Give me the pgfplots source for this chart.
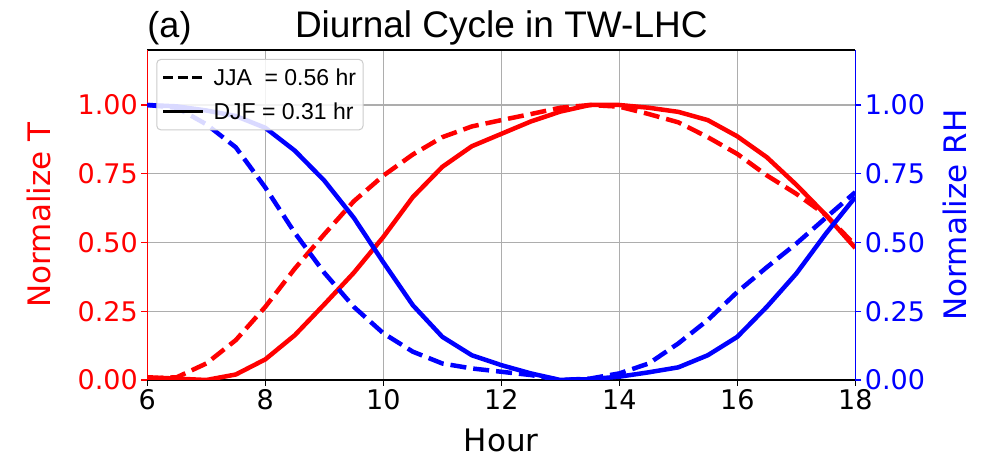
\documentclass[border=0pt]{standalone}
\usepackage{pgfplots}
\pgfplotsset{compat=1.18}
\usepackage{fontspec}
\setmainfont{DejaVu Sans}
\newfontfamily\arial{Liberation Sans}
\begin{document}
\begin{tikzpicture}
\useasboundingbox (0,0) rectangle (986pt,460pt);
\pgfplotsset{
  common/.style={
    at={(147.3pt,80pt)}, anchor=south west,
    width=708pt, height=330pt, scale only axis,
    xmin=6, xmax=18, ymin=0, ymax=1.2,
    clip mode=individual,
    tick align=outside, major tick length=6pt,
    /pgf/number format/assume math mode=true,
    tick label style={font=\fontsize{27}{30}\selectfont},
    ytick={0,0.25,0.5,0.75,1},
    yticklabel style={/pgf/number format/fixed, /pgf/number format/fixed zerofill, /pgf/number format/precision=2},
    every axis plot/.append style={line width=4.5pt, line join=round},
  }
}
\begin{axis}[common,
  axis x line*=box, axis y line*=left,
  x axis line style={black, line width=1.3pt, -},
  y axis line style={red, line width=1.3pt, -},
  xtick={6,8,10,12,14,16,18}, xtick pos=bottom,
  ytick pos=left,
  xtick style={black, line width=1.3pt},
  ytick style={red, line width=1.3pt},
  yticklabel style={text=red},
  grid=major, grid style={color=black!32, line width=1.2pt},
  xlabel={Hour}, ylabel={Normalize T},
  xlabel style={font=\fontsize{31}{34}\selectfont, at={(axis description cs:0.5,-0.182)}, anchor=center},
  ylabel style={font=\fontsize{31}{34}\selectfont, text=red, at={(axis description cs:-0.153,0.5)}, anchor=center},
]
% JJA T (dashed)
\addplot[red, dash pattern=on 16pt off 7pt] coordinates {
(6.0,0.005) (6.5,0.01) (7.0,0.06) (7.5,0.145) (8.0,0.266) (8.5,0.405) (9.0,0.53) (9.5,0.65)
(10.0,0.743) (10.5,0.82) (11.0,0.883) (11.5,0.922) (12.0,0.945) (12.5,0.967) (13.0,0.99)
(13.5,1.0) (14.0,0.994) (14.5,0.967) (15.0,0.937) (15.5,0.883) (16.0,0.822) (16.5,0.744)
(17.0,0.677) (17.5,0.60) (18.0,0.49)};
% DJF T (solid)
\addplot[red] coordinates {
(6.0,0.01) (6.5,0.005) (7.0,0.0) (7.5,0.02) (8.0,0.075) (8.5,0.163) (9.0,0.275) (9.5,0.39)
(10.0,0.52) (10.5,0.665) (11.0,0.775) (11.5,0.85) (12.0,0.895) (12.5,0.94) (13.0,0.976)
(13.5,1.0) (14.0,1.0) (14.5,0.99) (15.0,0.975) (15.5,0.945) (16.0,0.886) (16.5,0.81)
(17.0,0.71) (17.5,0.60) (18.0,0.48)};
\node[anchor=base west, font=\arial\fontsize{36}{38}\selectfont, inner sep=0pt] at (axis description cs:0,1) [yshift=12pt] {(a)};
\node[anchor=base, font=\arial\fontsize{37}{38}\selectfont, inner sep=0pt] at (axis description cs:0.5,1) [yshift=12pt] {Diurnal Cycle in TW-LHC};
\end{axis}
\begin{axis}[common,
  axis x line=none, axis y line*=right,
  y axis line style={blue, line width=1.3pt, -},
  ytick style={blue, line width=1.3pt},
  yticklabel style={text=blue},
  ylabel={Normalize RH},
  ylabel style={font=\fontsize{31}{34}\selectfont, text=blue, at={(axis description cs:1.141,0.5)}, anchor=center, rotate=0},
  legend cell align=left,
  legend style={at={(0,1)}, anchor=north west, xshift=9pt, yshift=-9pt,
    font=\arial\fontsize{23}{26}\selectfont, draw=black!20, line width=1pt,
    rounded corners=4pt, fill=white, fill opacity=0.85, text opacity=1,
    inner xsep=5pt, inner ysep=7pt, row sep=12pt, column sep=7pt},
  legend image code/.code={\draw[#1] (0pt,0pt) -- (40pt,0pt);},
]
% JJA RH (dashed)
\addplot[blue, dash pattern=on 16pt off 7pt, forget plot] coordinates {
(6.0,1.0) (6.5,0.99) (7.0,0.93) (7.5,0.846) (8.0,0.70) (8.5,0.535) (9.0,0.39) (9.5,0.266)
(10.0,0.17) (10.5,0.103) (11.0,0.06) (11.5,0.042) (12.0,0.03) (12.5,0.018) (13.0,0.0)
(13.5,0.005) (14.0,0.024) (14.5,0.06) (15.0,0.133) (15.5,0.218) (16.0,0.32) (16.5,0.41)
(17.0,0.496) (17.5,0.59) (18.0,0.683)};
% DJF RH (solid)
\addplot[blue, forget plot] coordinates {
(6.0,1.0) (6.5,0.995) (7.0,0.98) (7.5,0.96) (8.0,0.917) (8.5,0.834) (9.0,0.725) (9.5,0.59)
(10.0,0.428) (10.5,0.272) (11.0,0.157) (11.5,0.09) (12.0,0.054) (12.5,0.024) (13.0,0.0)
(13.5,0.003) (14.0,0.012) (14.5,0.028) (15.0,0.046) (15.5,0.09) (16.0,0.157) (16.5,0.266)
(17.0,0.387) (17.5,0.532) (18.0,0.665)};
\addlegendimage{black, line width=2.7pt, dash pattern=on 10pt off 4.5pt}
\addlegendentry{JJA\ \ = 0.56 hr}
\addlegendimage{black, line width=2.7pt}
\addlegendentry{DJF = 0.31 hr}
\end{axis}
\end{tikzpicture}
\end{document}
